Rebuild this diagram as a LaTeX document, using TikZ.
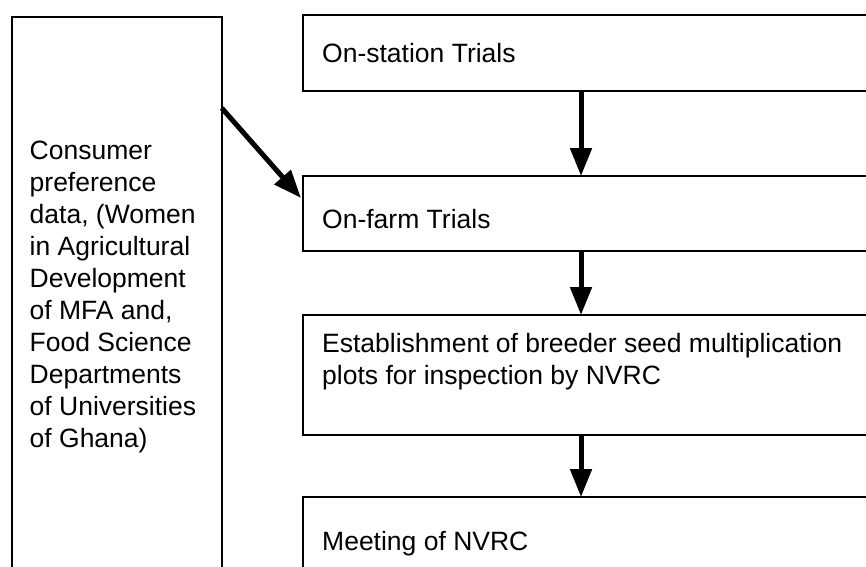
\documentclass[tikz,border=0pt]{standalone}
\usepackage{fontspec}
\setmainfont{Liberation Sans}
\usetikzlibrary{arrows.meta,calc}
\begin{document}
\begin{tikzpicture}[x=1pt,y=-1pt,
  box/.style={draw=black, line width=2pt, rectangle, inner sep=0pt, outer sep=0pt, anchor=north west},
  lbl/.style={font=\fontsize{26.5}{32}\selectfont, inner sep=0pt, anchor=base west},
  arr/.style={draw=black, line width=5pt, -{Triangle[length=28pt,width=21pt]}}
]
\clip (0,0) rectangle (866,566);
\fill[white] (0,0) rectangle (866,566);
\node[box, minimum width=209.7pt, minimum height=700pt] (cons) at (12,17) {};
\node[box, minimum width=700pt, minimum height=76pt] (b1) at (303,15) {};
\node[box, minimum width=700pt, minimum height=75pt] (b2) at (303,176) {};
\node[box, minimum width=700pt, minimum height=120pt] (b3) at (303,315) {};
\node[box, minimum width=700pt, minimum height=200pt] (b4) at (303,497) {};
\coordinate (col) at (581,0);
\node[lbl] (tcons) at (29.5,159) {\vtop{\hbox{Consumer}\hbox{preference}\hbox{data, (Women}\hbox{in Agricultural}\hbox{Development}\hbox{of MFA and,}\hbox{Food Science}\hbox{Departments}\hbox{of Universities}\hbox{of Ghana)}}};
\node[lbl] (t1) at (322,62) {On-station Trials};
\node[lbl] (t2) at (322,228) {On-farm Trials};
\node[lbl] (t3) at (322,352) {\vtop{\hbox{Establishment of breeder seed multiplication}\hbox{plots for inspection by NVRC}}};
\node[lbl] (t4) at (322,550) {Meeting of NVRC};
\draw[arr] (b1.south -| col) -- (b2.north -| col);
\draw[arr] (b2.south -| col) -- (b3.north -| col);
\draw[arr] (b3.south -| col) -- (b4.north -| col);
\draw[arr] ($(cons.north east)+(0,91)$) -- ($(b2.north west)+(-2,22)$);
\end{tikzpicture}
\end{document}
